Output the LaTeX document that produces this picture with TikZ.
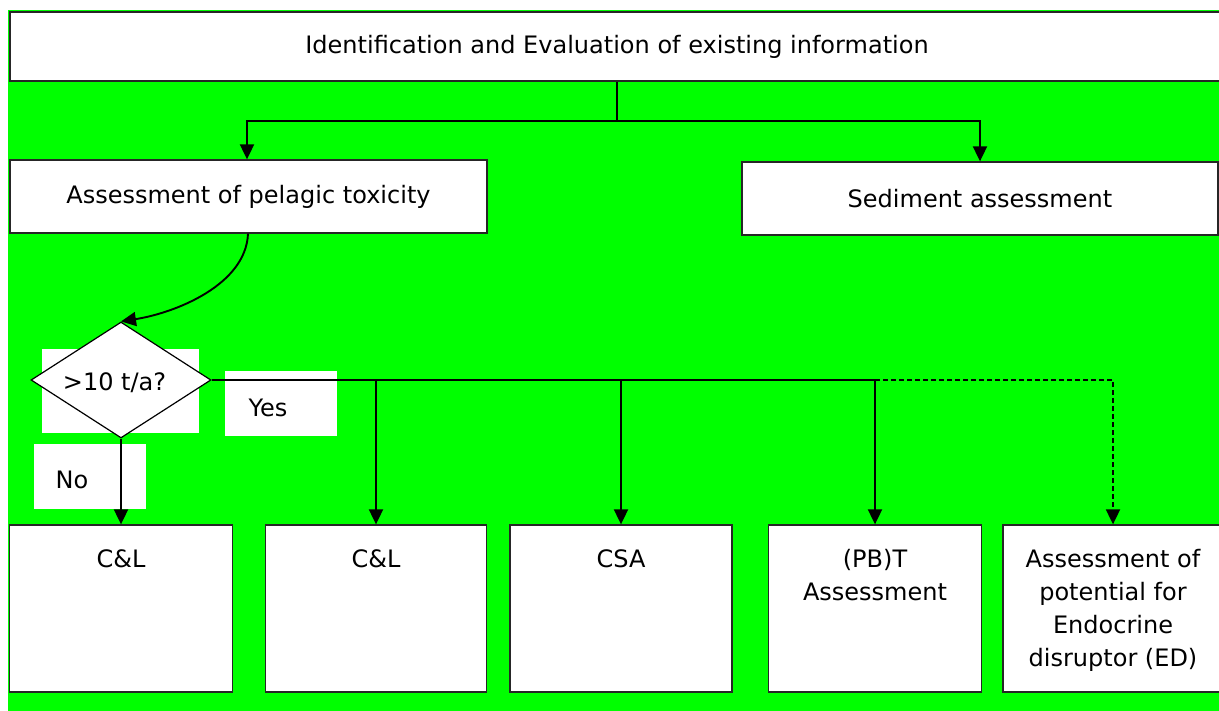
\documentclass[tikz,border=0pt]{standalone}
\usepackage{fontspec}
\setmainfont{DejaVu Sans}
\usetikzlibrary{arrows.meta,shapes.geometric}
\definecolor{bggreen}{HTML}{00FF00}
\tikzset{
  box/.style={draw=black!85, line width=1.3pt, fill=white, inner sep=0pt, rectangle},
  txt/.style={inner sep=0pt, align=center, font=\fontsize{24}{33}\selectfont},
  conn/.style={line width=1.9pt, draw=black},
  arr/.style={conn, -{Triangle[length=15pt,width=14pt]}}
}
\begin{document}
\begin{tikzpicture}[x=1pt,y=-1pt]
\useasboundingbox (0,0) rectangle (1219,711);
\fill[white] (0,0) rectangle (1219,711);
\fill[bggreen] (8,10) rectangle (1219,711);
% top boxes
\node[box, minimum width=1214pt, minimum height=69pt, font=\fontsize{24}{33}\selectfont] (top) at (617,46.5) {Identification and Evaluation of existing information};
\node[box, minimum width=477pt, minimum height=73pt, font=\fontsize{24}{33}\selectfont] (pel) at (248.5,196.5) {Assessment of pelagic toxicity};
\node[box, minimum width=476pt, minimum height=73pt, font=\fontsize{24}{33}\selectfont] (sed) at (980,198.5) {Sediment assessment};
% bottom boxes
\node[box, minimum width=223pt, minimum height=167pt] (b1) at (121,608.5) {};
\node[box, minimum width=221pt, minimum height=167pt] (b2) at (376,608.5) {};
\node[box, minimum width=222pt, minimum height=167pt] (b3) at (621,608.5) {};
\node[box, minimum width=213pt, minimum height=167pt] (b4) at (875,608.5) {};
\node[box, minimum width=220pt, minimum height=167pt] (b5) at (1113,608.5) {};
\node[txt, anchor=north] (t1) at ([yshift=-25pt]b1.north) {C\&L};
\node[txt, anchor=north] (t2) at ([yshift=-25pt]b2.north) {C\&L};
\node[txt, anchor=north] (t3) at ([yshift=-25pt]b3.north) {CSA};
\node[txt, anchor=north] (t4) at ([yshift=-25pt]b4.north) {(PB)T\\Assessment};
\node[txt, anchor=north] (t5) at ([yshift=-25pt]b5.north) {Assessment of\\potential for\\Endocrine\\disruptor (ED)};
% decision
\node[fill=white, minimum width=157pt, minimum height=84pt, inner sep=0pt] (qbox) at (120.5,391) {};
\node[diamond, draw=black, line width=1.2pt, fill=white, minimum width=180pt, minimum height=116pt, inner sep=0pt, aspect=1.55] (dia) at (121,380) {};
\node[txt] (q) at (114.5,383) {>10 t/a?};
\node[fill=white, minimum width=112pt, minimum height=65pt, inner sep=0pt] (yesbox) at (281,403.5) {};
\node[txt] (yes) at (268,408) {Yes};
\node[fill=white, minimum width=112pt, minimum height=65pt, inner sep=0pt] (nobox) at (90,476.5) {};
\node[txt] (no) at (72,480) {No};
% connectors top
\coordinate (splitlow) at (617,121);
\draw[conn] (top.south) -- (splitlow);
\draw[arr] (splitlow) -| ([xshift=-1.5pt]pel.north);
\draw[arr] (splitlow) -| (sed.north);
% curve
\draw[arr] ([xshift=-0.5pt]pel.south) .. controls (246,285) and (175,313) .. (dia.north);
% no
\draw[arr] (dia.south) -- (b1.north);
% yes
\draw[conn] (dia.east) -- (b4.north |- dia.east);
\draw[arr] (b2.north |- dia.east) -- (b2.north);
\draw[arr] (b3.north |- dia.east) -- (b3.north);
\draw[arr] (b4.north |- dia.east) -- (b4.north);
\draw[arr, dash pattern=on 5pt off 3pt] (b4.north |- dia.east) -- (b5.north |- dia.east) -- (b5.north);
\end{tikzpicture}
\end{document}
